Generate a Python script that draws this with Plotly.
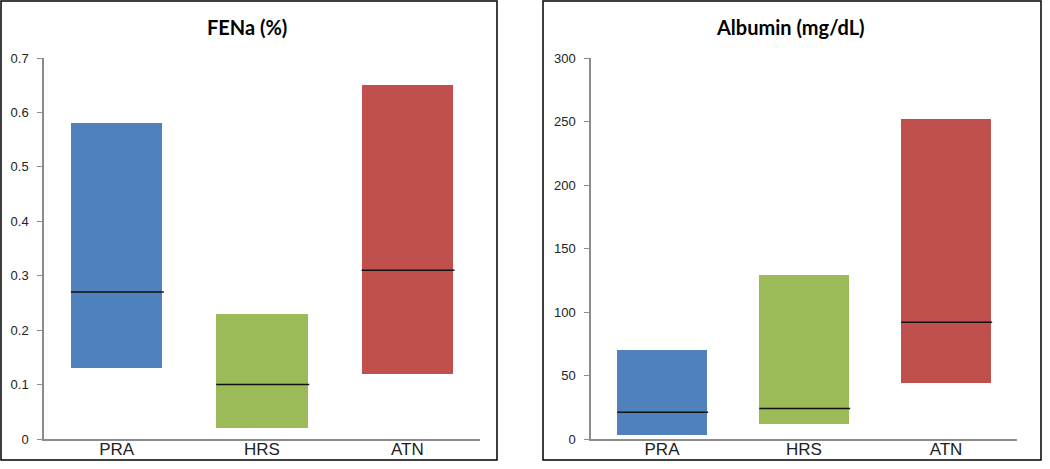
import plotly.graph_objects as go

categories = ["PRA", "HRS", "ATN"]
colors = ["#4F81BD", "#9BBB59", "#C0504D"]

fena_low = [0.13, 0.02, 0.12]
fena_high = [0.58, 0.23, 0.65]
fena_median = [0.27, 0.10, 0.31]

alb_low = [3, 12, 44]
alb_high = [70, 129, 252]
alb_median = [21, 24, 92]

fena_ticks = [0, 0.1, 0.2, 0.3, 0.4, 0.5, 0.6, 0.7]
alb_ticks = [0, 50, 100, 150, 200, 250, 300]

W, H = 1050, 469
BAR_W = 0.63

def px_x(p):
    return p / W

def px_y(p):
    return 1 - p / H

fig = go.Figure()

fig.add_trace(go.Bar(
    x=categories, y=[h - l for h, l in zip(fena_high, fena_low)], base=fena_low,
    marker=dict(color=colors, line=dict(width=0)), width=BAR_W,
    xaxis="x", yaxis="y", showlegend=False, hoverinfo="skip"))
fig.add_trace(go.Bar(
    x=categories, y=[h - l for h, l in zip(alb_high, alb_low)], base=alb_low,
    marker=dict(color=colors, line=dict(width=0)), width=BAR_W,
    xaxis="x2", yaxis="y2", showlegend=False, hoverinfo="skip"))

shapes = []
for i, m in enumerate(fena_median):
    shapes.append(dict(type="line", xref="x", yref="y", x0=i - BAR_W / 2, x1=i + BAR_W / 2 + 0.01,
                       y0=m, y1=m, line=dict(color="#111111", width=1.5)))
for i, m in enumerate(alb_median):
    shapes.append(dict(type="line", xref="x2", yref="y2", x0=i - BAR_W / 2, x1=i + BAR_W / 2 + 0.01,
                       y0=m, y1=m, line=dict(color="#111111", width=1.5)))

# panel borders
shapes.append(dict(type="rect", xref="paper", yref="paper",
                   x0=px_x(1), x1=px_x(497), y0=px_y(460), y1=px_y(1),
                   line=dict(color="#000000", width=1.5)))
shapes.append(dict(type="rect", xref="paper", yref="paper",
                   x0=px_x(543), x1=px_x(1041), y0=px_y(460), y1=px_y(1),
                   line=dict(color="#000000", width=1.5)))

ydom = [px_y(439), px_y(58)]
tickfont = dict(family="Liberation Sans, Arial, sans-serif", size=13, color="#222222")
catfont = dict(family="Liberation Sans, Arial, sans-serif", size=17, color="#222222")

common_x = dict(type="category", showgrid=False, zeroline=False, showline=True,
                linecolor="#8c8c8c", linewidth=1.5, ticks="", tickfont=catfont,
                automargin=False, fixedrange=True, ticklabelstandoff=-6)
common_y = dict(showgrid=False, zeroline=False, showline=True, linecolor="#8c8c8c",
                linewidth=1.5, ticks="outside", ticklen=5, tickcolor="#8c8c8c",
                tickwidth=1, tickfont=tickfont, automargin=False, ticklabelstandoff=6,
                fixedrange=True)

fig.update_layout(
    width=W, height=H,
    margin=dict(l=0, r=0, t=0, b=0),
    paper_bgcolor="white", plot_bgcolor="white",
    bargap=0,
    xaxis=dict(domain=[px_x(44), px_x(480)], anchor="y", range=[-0.5, 2.5], **common_x),
    yaxis=dict(domain=ydom, anchor="x", range=[0, 0.7], tickvals=fena_ticks,
               ticktext=[("%g" % v) for v in fena_ticks], **common_y),
    xaxis2=dict(domain=[px_x(591), px_x(1017)], anchor="y2", range=[-0.5, 2.5], **common_x),
    yaxis2=dict(domain=ydom, anchor="x2", range=[0, 300], tickvals=alb_ticks, **common_y),
    shapes=shapes,
    annotations=[
        dict(text="<b>FENa (%)</b>", xref="paper", yref="paper", x=px_x(247), y=px_y(27),
             showarrow=False, xanchor="center", yanchor="middle",
             font=dict(family="Lato, Open Sans, sans-serif", size=20, color="#000000")),
        dict(text="<b>Albumin (mg/dL)</b>", xref="paper", yref="paper", x=px_x(790), y=px_y(27),
             showarrow=False, xanchor="center", yanchor="middle",
             font=dict(family="Lato, Open Sans, sans-serif", size=20, color="#000000")),
    ],
)

fig.write_html("out.html", config={"displayModeBar": False},
               post_script="document.body.style.margin='0';document.body.style.overflow='hidden';")
